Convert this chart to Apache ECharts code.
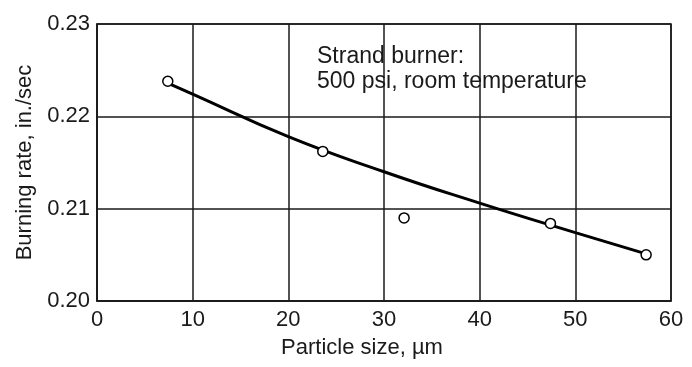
<!DOCTYPE html>
<html>
<head>
<meta charset="utf-8">
<script src="https://cdn.jsdelivr.net/npm/echarts@6/dist/echarts.min.js"></script>
<style>
  html, body { margin: 0; padding: 0; background: #fff; }
  #chart { width: 692px; height: 367px; }
</style>
</head>
<body>
<div id="chart"></div>
<script>
// Measured strand-burner points: particle size (µm) vs burning rate (in./sec)
const particleSize = [7.4, 23.6, 32.1, 47.4, 57.4];
const burningRate = [0.2238, 0.2162, 0.2090, 0.2084, 0.2050];

// Faired trend curve through the data
const curveSize = [7.4, 10, 20, 30, 40, 50, 57.4];
const curveRate = [0.2236, 0.2224, 0.2178, 0.2140, 0.2106, 0.2074, 0.2051];

// Axis ranges and ticks
const xTicks = [0, 10, 20, 30, 40, 50, 60];
const yTicks = [0.20, 0.21, 0.22, 0.23];

const noteLines = ['Strand burner:', '500 psi, room temperature'];

const font = 'Liberation Sans, Arial, sans-serif';
const ink = '#1a1a1a';

const chart = echarts.init(document.getElementById('chart'), null, { renderer: 'canvas' });

chart.setOption({
  animation: false,
  backgroundColor: '#ffffff',
  grid: { left: 97, right: 21, top: 24, bottom: 66, show: true, borderColor: ink, borderWidth: 1.5 },
  xAxis: {
    type: 'value',
    min: xTicks[0],
    max: xTicks[xTicks.length - 1],
    interval: 10,
    name: 'Particle size, µm',
    nameLocation: 'middle',
    nameGap: 36,
    // right padding nudges the title a little left of the plot centre
    nameTextStyle: { fontFamily: font, fontSize: 22, color: ink, padding: [0, 44, 0, 0] },
    axisLine: { show: true, lineStyle: { color: ink, width: 1.5 } },
    axisTick: { show: false },
    axisLabel: { fontFamily: font, fontSize: 22, color: ink, margin: 8 },
    splitLine: { show: true, lineStyle: { color: ink, width: 1.5 } }
  },
  yAxis: {
    type: 'value',
    min: yTicks[0],
    max: yTicks[yTicks.length - 1],
    interval: 0.01,
    name: 'Burning rate, in./sec',
    nameLocation: 'middle',
    nameGap: 59,
    nameTextStyle: { fontFamily: font, fontSize: 22, color: ink },
    axisLine: { show: true, lineStyle: { color: ink, width: 1.5 } },
    axisTick: { show: false },
    axisLabel: { fontFamily: font, fontSize: 22, color: ink, margin: 7,
      formatter: v => v.toFixed(2) },
    splitLine: { show: true, lineStyle: { color: ink, width: 1.5 } }
  },
  graphic: [{
    type: 'text',
    left: 317,
    top: 44,
    style: {
      text: noteLines.join('\n'),
      fontFamily: font,
      fontSize: 23,
      lineHeight: 25,
      fill: ink
    }
  }],
  series: [
    {
      type: 'line',
      data: curveSize.map((x, i) => [x, curveRate[i]]),
      smooth: true,
      symbol: 'none',
      lineStyle: { color: '#000', width: 3 },
      z: 2
    },
    {
      type: 'scatter',
      data: particleSize.map((x, i) => [x, burningRate[i]]),
      symbol: 'circle',
      symbolSize: 10,
      itemStyle: { color: '#fff', borderColor: '#000', borderWidth: 1.5, opacity: 1 },
      z: 3
    }
  ]
});
</script>
</body>
</html>
